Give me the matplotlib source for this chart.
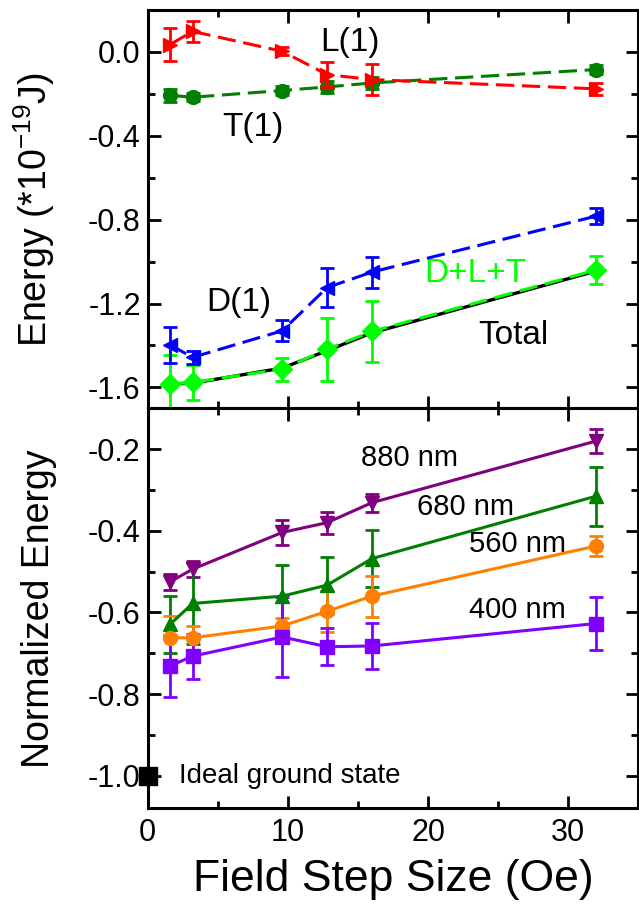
import matplotlib
matplotlib.use("Agg")
import matplotlib.pyplot as plt
from matplotlib.ticker import MultipleLocator

plt.rcParams['font.family'] = ['Liberation Sans', 'DejaVu Sans']
plt.rcParams['axes.unicode_minus'] = False
plt.rcParams['mathtext.fontset'] = 'custom'
plt.rcParams['mathtext.rm'] = 'Liberation Sans'
plt.rcParams['mathtext.it'] = 'Liberation Sans'

# field step sizes (Oe)
steps = [1.6, 3.2, 9.6, 12.8, 16, 32]

# top panel: energies (*1e-19 J)
L1 = [0.035, 0.098, 0.003, -0.108, -0.132, -0.176]
L1_err = [0.08, 0.05, 0.02, 0.06, 0.075, 0.03]
T1 = [-0.207, -0.216, -0.184, -0.167, -0.148, -0.084]
T1_err = [0.03, 0.02, 0.02, 0.03, 0.03, 0.02]
D1 = [-1.397, -1.457, -1.330, -1.124, -1.050, -0.783]
D1_err = [0.085, 0.03, 0.05, 0.093, 0.074, 0.04]
DLT = [-1.584, -1.576, -1.513, -1.418, -1.333, -1.040]
DLT_err = [0.14, 0.085, 0.055, 0.15, 0.145, 0.067]
total = [-1.584, -1.580, -1.508, -1.425, -1.340, -1.045]

# bottom panel: normalized energy per wavelength
nm880 = [-0.525, -0.494, -0.404, -0.380, -0.331, -0.180]
nm880_err = [0.02, 0.02, 0.03, 0.027, 0.022, 0.03]
nm680 = [-0.629, -0.578, -0.560, -0.533, -0.468, -0.315]
nm680_err = [0.07, 0.10, 0.077, 0.07, 0.07, 0.072]
nm560 = [-0.662, -0.662, -0.633, -0.597, -0.560, -0.437]
nm560_err = [0.054, 0.03, 0.02, 0.05, 0.05, 0.025]
nm400 = [-0.731, -0.707, -0.660, -0.684, -0.682, -0.627]
nm400_err = [0.075, 0.055, 0.097, 0.045, 0.057, 0.064]

ideal_x = 0
ideal_y = -1.0


def style_axes(ax):
    for sp in ax.spines.values():
        sp.set_linewidth(2.2)
    ax.tick_params(which='both', direction='in', top=True, right=True, width=2)
    ax.tick_params(which='major', length=9, labelsize=22)
    ax.tick_params(which='minor', length=5)
    ax.tick_params(axis='y', pad=5)
    ax.tick_params(axis='x', pad=7)
    ax.set_xlim(0, 35)
    ax.xaxis.set_major_locator(MultipleLocator(10))
    ax.xaxis.set_minor_locator(MultipleLocator(5))


fig = plt.figure(figsize=(6.39, 9.09), dpi=100)
ax1 = fig.add_axes([0.2311, 0.5508, 0.7678, 0.4382])
ax2 = fig.add_axes([0.2311, 0.1106, 0.7678, 0.4402])

eb = dict(elinewidth=2, capsize=5, capthick=2, markersize=10, lw=2.2)
dash = (6, 2.5)

ax1.plot(steps, total, color='black', lw=2.4, zorder=2)
ax1.errorbar(steps, DLT, yerr=DLT_err, fmt='D', color='#00FF00', ls='--', dashes=dash, zorder=3, **eb)
ax1.errorbar(steps, D1, yerr=D1_err, fmt='<', color='#0000FF', ls='--', dashes=dash, zorder=3, **eb)
ax1.errorbar(steps, T1, yerr=T1_err, fmt='o', color='#008000', ls='--', dashes=dash, zorder=3, **eb)
ax1.errorbar(steps, L1, yerr=L1_err, fmt='>', color='#FF0000', ls='--', dashes=dash, zorder=4, **eb)

ax1.text(14.4, 0.047, 'L(1)', fontsize=24, ha='center', va='center')
ax1.text(7.5, -0.36, 'T(1)', fontsize=24, ha='center', va='center')
ax1.text(6.5, -1.197, 'D(1)', fontsize=24, ha='center', va='center')
ax1.text(23.4, -1.058, 'D+L+T', fontsize=24, ha='center', va='center', color='#00FF00')
ax1.text(26.1, -1.354, 'Total', fontsize=24, ha='center', va='center')

style_axes(ax1)
ax1.set_ylim(-1.7, 0.2)
ax1.yaxis.set_major_locator(MultipleLocator(0.4))
ax1.yaxis.set_minor_locator(MultipleLocator(0.2))
ax1.yaxis.set_major_formatter(plt.FormatStrFormatter('%.1f'))
ax1.tick_params(labelbottom=False)
ax1.set_ylabel('Energy (*10$^{-19}$J)', fontsize=27)
ax1.yaxis.set_label_coords(-0.185, 0.5)

ax2.errorbar(steps, nm880, yerr=nm880_err, fmt='v-', color='#800080', zorder=3, **eb)
ax2.errorbar(steps, nm680, yerr=nm680_err, fmt='^-', color='#008000', zorder=3, **eb)
ax2.errorbar(steps, nm560, yerr=nm560_err, fmt='o-', color='#FF8000', zorder=3, **eb)
ax2.errorbar(steps, nm400, yerr=nm400_err, fmt='s-', color='#8000FF', zorder=3, **eb)
ax2.plot(ideal_x, ideal_y, 's', color='black', markersize=12.5, clip_on=False, zorder=5)

ax2.text(18.7, -0.222, '880 nm', fontsize=21, ha='center', va='center')
ax2.text(22.65, -0.341, '680 nm', fontsize=21, ha='center', va='center')
ax2.text(26.4, -0.432, '560 nm', fontsize=21, ha='center', va='center')
ax2.text(26.4, -0.594, '400 nm', fontsize=21, ha='center', va='center')
ax2.text(2.2, -1.0, 'Ideal ground state', fontsize=20, ha='left', va='center')

style_axes(ax2)
ax2.set_ylim(-1.08, -0.1)
ax2.yaxis.set_major_locator(MultipleLocator(0.2))
ax2.yaxis.set_minor_locator(MultipleLocator(0.1))
ax2.yaxis.set_major_formatter(plt.FormatStrFormatter('%.1f'))
ax2.set_ylabel('Normalized Energy', fontsize=27)
ax2.yaxis.set_label_coords(-0.185, 0.5)
ax2.set_xlabel('Field Step Size (Oe)', fontsize=32, labelpad=8)

fig.savefig('out.png', dpi=100)
